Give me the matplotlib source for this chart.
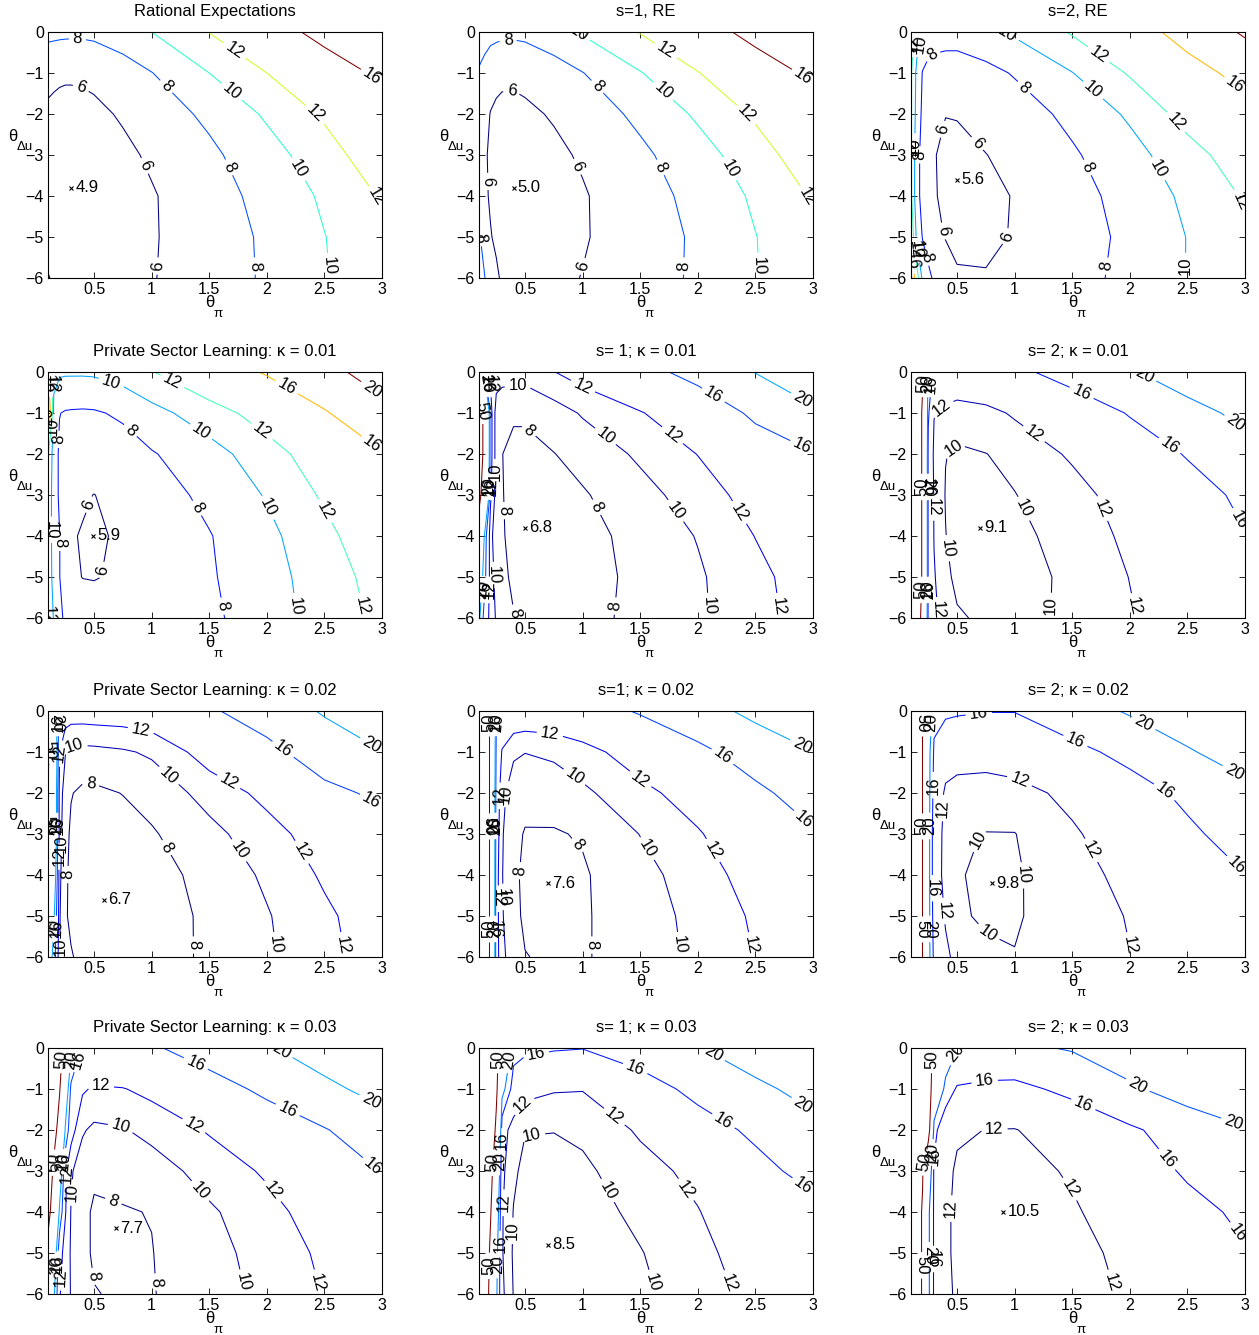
import matplotlib.pyplot as plt
import numpy as np
from matplotlib.colors import Normalize

plt.rcParams['font.family'] = ['Liberation Sans', 'DejaVu Sans']

# grid of the loss surface (theta_pi across, theta_du down)
theta_pi = [0.1, 0.15, 0.2, 0.25, 0.3, 0.4, 0.5, 0.75, 1.0, 1.5, 2.0, 2.5, 3.0]
theta_du = [0, -1, -2, -3, -4, -5, -6]

loss_re = [
    [8.5, 8.45, 8.4, 8.37, 8.35, 8.36, 8.45, 9.05, 10.0, 12.05, 14.5, 17.0, 20.0],
    [6.5, 6.4, 6.3, 6.25, 6.25, 6.3, 6.45, 7.1, 7.95, 10.0, 12.0, 14.3, 16.6],
    [5.7, 5.55, 5.45, 5.4, 5.4, 5.45, 5.6, 6.2, 6.96, 8.4, 10.27, 12.3, 14.2],
    [5.3, 5.15, 5.1, 5.05, 5.05, 5.1, 5.2, 5.6, 6.27, 7.6, 9.23, 11.1, 13.4],
    [5.0, 4.95, 4.92, 4.9, 4.9, 4.95, 5.05, 5.35, 5.85, 7.2, 8.6, 10.3, 12.2],
    [5.3, 5.2, 5.15, 5.12, 5.1, 5.15, 5.25, 5.45, 5.85, 7.0, 8.3, 9.95, 11.5],
    [6.1, 5.8, 5.6, 5.5, 5.45, 5.42, 5.45, 5.6, 5.9, 7.0, 8.25, 9.85, 11.5],
]
loss_re_s1 = [
    [10.1, 9.2, 8.7, 8.55, 8.45, 8.4, 8.5, 9.2, 10.2, 12.1, 14.5, 17.0, 20.0],
    [7.6, 7.0, 6.6, 6.4, 6.3, 6.3, 6.45, 7.1, 7.95, 9.9, 11.9, 14.3, 16.6],
    [7.0, 6.4, 5.95, 5.75, 5.65, 5.6, 5.7, 6.15, 6.9, 8.45, 10.3, 12.3, 14.2],
    [6.7, 6.15, 5.8, 5.5, 5.35, 5.25, 5.3, 5.65, 6.2, 7.6, 9.2, 11.1, 13.3],
    [7.2, 6.3, 5.8, 5.45, 5.25, 5.1, 5.1, 5.35, 5.85, 7.15, 8.6, 10.3, 12.2],
    [8.3, 7.0, 6.1, 5.7, 5.5, 5.3, 5.25, 5.45, 5.85, 7.0, 8.3, 9.95, 11.5],
    [9.0, 8.05, 7.0, 6.3, 5.75, 5.5, 5.45, 5.6, 6.05, 7.1, 8.3, 9.9, 11.5],
]
loss_re_s2 = [
    [13.0, 11.0, 9.8, 9.3, 9.0, 8.85, 8.8, 9.4, 10.3, 12.2, 14.5, 17.2, 20.5],
    [12.3, 9.5, 7.9, 7.3, 7.1, 7.0, 7.05, 7.45, 8.15, 9.95, 12.2, 14.8, 17.0],
    [12.3, 9.2, 7.6, 6.9, 6.4, 6.02, 6.05, 6.4, 7.05, 8.5, 10.3, 12.8, 14.8],
    [12.3, 8.6, 7.4, 6.6, 6.05, 5.8, 5.75, 5.98, 6.3, 7.75, 9.3, 11.2, 13.2],
    [12.4, 8.6, 7.4, 6.7, 6.1, 5.75, 5.6, 5.75, 6.05, 7.3, 8.7, 10.4, 12.2],
    [14.0, 9.5, 7.9, 7.05, 6.3, 5.95, 5.8, 5.85, 6.05, 7.2, 8.4, 10.05, 11.7],
    [21.0, 13.0, 9.6, 8.5, 7.7, 6.6, 6.1, 6.05, 6.3, 7.4, 8.45, 10.05, 11.7],
]
loss_psl_k1 = [
    [16.0, 10.6, 10.3, 10.25, 10.25, 10.25, 10.3, 10.9, 11.9, 14.1, 16.3, 18.9, 21.7],
    [21.0, 9.5, 8.05, 7.85, 7.8, 7.75, 7.8, 8.3, 9.35, 11.05, 13.0, 15.7, 18.8],
    [12.3, 9.0, 7.7, 7.3, 7.0, 6.85, 6.8, 7.15, 7.85, 9.25, 11.1, 13.3, 15.8],
    [11.5, 9.0, 7.7, 7.1, 6.6, 6.15, 5.98, 6.4, 7.05, 8.5, 10.15, 12.3, 14.6],
    [11.5, 9.0, 8.05, 7.05, 6.1, 5.92, 5.9, 6.1, 6.4, 7.9, 9.5, 11.45, 13.6],
    [11.5, 9.2, 8.05, 7.05, 6.3, 5.97, 5.95, 6.15, 6.5, 7.8, 9.2, 11.05, 12.8],
    [12.3, 9.8, 8.4, 7.7, 7.2, 6.8, 6.5, 6.55, 6.75, 7.6, 9.1, 10.8, 12.5],
]
loss_s1_k1 = [
    [30.0, 16.5, 11.5, 11.05, 10.9, 10.8, 10.8, 11.95, 13.0, 14.9, 17.1, 20.1, 23.0],
    [60.0, 45.0, 13.0, 9.05, 8.5, 8.35, 8.35, 9.1, 10.2, 11.85, 13.8, 16.6, 19.3],
    [60.0, 45.0, 13.0, 9.05, 8.05, 7.3, 7.3, 7.95, 8.7, 10.35, 12.05, 14.3, 15.8],
    [55.0, 40.0, 12.5, 9.05, 8.1, 7.4, 7.1, 7.35, 7.8, 9.3, 10.95, 12.9, 15.05],
    [40.0, 18.0, 10.5, 9.05, 8.2, 7.4, 6.9, 7.0, 7.3, 8.7, 10.1, 12.05, 13.9],
    [25.0, 17.0, 10.8, 9.4, 8.5, 7.6, 7.1, 7.1, 7.3, 8.45, 9.75, 11.4, 13.2],
    [21.0, 14.0, 11.05, 9.8, 8.9, 8.1, 7.6, 7.4, 7.4, 8.5, 9.7, 11.2, 13.05],
]
loss_s2_k1 = [
    [100, 80, 55, 17, 15.5, 15.05, 14.6, 14.8, 15.3, 17.3, 19.6, 22.2, 25.0],
    [100, 80, 45, 16.5, 12.1, 11.2, 10.8, 11.3, 12.3, 14.05, 16.2, 18.6, 21.0],
    [100, 80, 45, 15, 11.5, 10.05, 9.75, 9.97, 10.45, 12.35, 14.3, 16.2, 18.6],
    [100, 80, 45, 15, 11.8, 9.9, 9.3, 9.5, 9.95, 11.1, 13.2, 14.8, 16.6],
    [100, 80, 45, 15, 11.9, 10.05, 9.2, 9.25, 9.55, 10.7, 12.5, 14.3, 15.9],
    [100, 80, 45, 15, 12.2, 10.4, 9.6, 9.4, 9.45, 10.3, 12.05, 13.8, 15.6],
    [100, 70, 40, 15, 12.5, 11.05, 10.2, 9.7, 9.5, 10.3, 11.8, 13.5, 15.3],
]
loss_psl_k2 = [
    [40, 25, 14, 13.4, 13.2, 13.2, 13.3, 13.4, 13.8, 15.6, 17.6, 20.4, 23.0],
    [55, 30, 12.1, 10.1, 9.5, 9.4, 9.45, 9.75, 10.3, 13.05, 15.1, 17.7, 19.9],
    [48, 28, 11, 9.05, 8.1, 7.6, 7.6, 8.05, 8.7, 10.75, 12.6, 15.2, 16.6],
    [52, 28, 10.8, 8.6, 7.7, 7.1, 6.95, 7.25, 7.8, 9.4, 11.2, 13.1, 14.8],
    [40, 25, 10.5, 8.4, 7.5, 6.9, 6.75, 6.9, 7.3, 8.6, 10.35, 12.3, 14.05],
    [30, 21, 10.2, 8.3, 7.5, 6.8, 6.7, 6.8, 7.1, 8.35, 9.85, 11.6, 13.3],
    [25, 18, 10.1, 8.8, 8.2, 7.3, 7.05, 7.0, 7.2, 8.3, 9.7, 11.4, 13.05],
]
loss_s1_k2 = [
    [100, 70, 40, 16.5, 14.5, 14.05, 13.9, 14.0, 14.5, 16.3, 18.4, 21.0, 23.5],
    [100, 70, 40, 15.05, 11.8, 10.3, 10.05, 10.4, 11.2, 13.2, 15.2, 17.6, 19.9],
    [100, 70, 40, 14.05, 10.5, 9.0, 8.5, 8.8, 9.6, 11.4, 13.05, 15.3, 17.5],
    [100, 70, 40, 13.5, 10.2, 8.4, 7.9, 7.85, 8.15, 10.05, 11.8, 13.8, 15.7],
    [100, 70, 40, 13.05, 10.1, 8.3, 7.7, 7.6, 7.8, 9.3, 11.05, 12.9, 14.8],
    [100, 70, 40, 13.05, 10.2, 8.4, 7.75, 7.65, 7.8, 9.05, 10.6, 12.3, 14.2],
    [100, 70, 40, 13.05, 10.5, 8.9, 8.05, 7.75, 7.8, 9.05, 10.4, 12.05, 13.8],
]
loss_s2_k2 = [
    [100, 80, 45, 25, 17.0, 16.6, 16.4, 16.1, 16.1, 18.2, 20.4, 22.6, 25.0],
    [100, 80, 45, 22, 15.5, 13.6, 13.2, 13.1, 13.4, 15.05, 17.0, 19.6, 22.0],
    [100, 80, 45, 22, 14.5, 11.5, 11.05, 10.9, 11.2, 12.6, 14.6, 16.7, 18.8],
    [100, 80, 45, 22, 13.5, 11.3, 10.2, 9.95, 9.95, 11.7, 13.4, 15.4, 17.4],
    [100, 80, 45, 22, 13.5, 11.2, 10.1, 9.75, 9.8, 11.1, 12.7, 14.6, 15.95],
    [100, 80, 45, 22, 14.05, 11.7, 10.2, 9.8, 9.85, 10.8, 12.15, 13.9, 15.6],
    [100, 80, 45, 22, 15.05, 12.6, 11.2, 10.3, 10.05, 10.7, 11.95, 13.7, 15.5],
]
loss_psl_k3 = [
    [100, 80, 60, 40, 21, 15.5, 15.05, 15.2, 15.6, 17.6, 19.6, 22.05, 24.5],
    [100, 70, 52, 25, 15.05, 12.3, 11.7, 11.9, 12.6, 14.6, 16.7, 19.05, 21.4],
    [100, 60, 40, 19.5, 13, 10.2, 9.6, 9.85, 10.6, 12.2, 14.05, 15.8, 18.05],
    [70, 45, 25, 12.5, 10.2, 9.05, 8.2, 8.45, 9.05, 10.8, 12.3, 14.2, 16.1],
    [60, 35, 19, 12.2, 9.9, 8.3, 7.85, 7.9, 8.05, 9.7, 11.3, 13.1, 14.8],
    [40, 25, 13, 11.05, 9.8, 8.3, 7.85, 7.8, 7.95, 9.3, 10.8, 12.4, 14.05],
    [30, 21, 12.2, 10.8, 9.9, 8.6, 8.05, 7.85, 7.9, 9.15, 10.5, 12.1, 13.8],
]
loss_s1_k3 = [
    [100, 90, 80, 60, 30, 17.5, 16.8, 16.3, 16.1, 17.7, 19.8, 22.3, 24.8],
    [100, 90, 80, 55, 22, 14.05, 12.8, 12.2, 12.1, 14.5, 16.9, 19.1, 21.4],
    [100, 90, 70, 45, 13, 11.05, 10.1, 10.05, 10.4, 12.3, 14.6, 16.6, 18.8],
    [100, 80, 60, 30, 12.5, 10.4, 9.4, 9.35, 9.6, 11.2, 12.6, 15.05, 17.05],
    [100, 70, 52, 25, 12.2, 9.9, 8.9, 8.85, 9.1, 10.5, 11.9, 13.8, 15.05],
    [100, 70, 45, 22, 12.2, 9.7, 8.6, 8.55, 8.75, 9.9, 11.4, 13.1, 14.8],
    [100, 70, 40, 21, 12.5, 9.9, 8.8, 8.65, 8.7, 9.6, 11.05, 12.6, 14.2],
]
loss_s2_k3 = [
    [200, 150, 100, 70, 40, 25, 20.2, 19.5, 19.3, 20.3, 22.4, 24.8, 27.3],
    [200, 150, 100, 70, 30, 18.05, 15.6, 15.1, 15.05, 16.9, 19.4, 21.8, 24.05],
    [200, 150, 100, 60, 17, 13.5, 12.4, 11.95, 11.9, 13.4, 15.5, 17.6, 19.6],
    [120, 80, 52, 25, 15.5, 12.8, 11.6, 11.2, 11.05, 12.3, 14.3, 16.4, 18.5],
    [70, 60, 48, 21, 15.5, 12.6, 11.3, 10.8, 10.6, 11.7, 13.4, 15.05, 16.6],
    [70, 60, 48, 21, 15.5, 12.6, 11.3, 10.85, 10.7, 11.3, 12.6, 14.4, 15.8],
    [70, 60, 48, 21, 15.5, 12.8, 11.5, 11.0, 10.8, 11.1, 12.3, 14.05, 15.5],
]

panels = [loss_re, loss_re_s1, loss_re_s2,
          loss_psl_k1, loss_s1_k1, loss_s2_k1,
          loss_psl_k2, loss_s1_k2, loss_s2_k2,
          loss_psl_k3, loss_s1_k3, loss_s2_k3]

titles = ['Rational Expectations', 's=1, RE', 's=2, RE',
          'Private Sector Learning: \u03ba = 0.01', 's= 1; \u03ba = 0.01', 's= 2; \u03ba = 0.01',
          'Private Sector Learning: \u03ba = 0.02', 's=1; \u03ba = 0.02', 's= 2; \u03ba = 0.02',
          'Private Sector Learning: \u03ba = 0.03', 's= 1; \u03ba = 0.03', 's= 2; \u03ba = 0.03']

levels = [[6, 8, 10, 12, 16], [6, 8, 10, 12, 16], [6, 8, 10, 12, 16, 20],
          [6, 8, 10, 12, 16, 20], [8, 10, 12, 16, 20, 50], [10, 12, 16, 20, 50],
          [8, 10, 12, 16, 20, 50], [8, 10, 12, 16, 20, 50], [10, 12, 16, 20, 50],
          [8, 10, 12, 16, 20, 50], [10, 12, 16, 20, 50], [12, 16, 20, 50]]

# location and value of the minimum loss
min_x = [0.3, 0.4, 0.5, 0.49, 0.5, 0.7, 0.59, 0.7, 0.8, 0.69, 0.7, 0.9]
min_y = [-3.8, -3.8, -3.6, -4.0, -3.8, -3.8, -4.6, -4.2, -4.2, -4.4, -4.8, -4.0]
min_val = ['4.9', '5.0', '5.6', '5.9', '6.8', '9.1', '6.7', '7.6', '9.8', '7.7', '8.5', '10.5']

W, H = 1259, 1335
lefts = [48, 479, 911]
tops = [32, 372, 711, 1048]
aw, ah = 334, 246


def label_spots(ax, cs, spacing=103, start=12):
    # matlab style: a label every `spacing` pixels along each contour line
    spots = []
    for path in cs.get_paths():
        for seg in path.to_polygons(closed_only=False):
            if len(seg) < 2:
                continue
            d = ax.transData.transform(seg)
            cum = np.concatenate([[0], np.cumsum(np.hypot(*np.diff(d, axis=0).T))])
            s = start
            while s <= cum[-1]:
                spots.append((np.interp(s, cum, seg[:, 0]), np.interp(s, cum, seg[:, 1])))
                s += spacing
    return spots


fig = plt.figure(figsize=(W / 100, H / 100), dpi=100)

for i in range(12):
    r, c = divmod(i, 3)
    ax = fig.add_axes([lefts[c] / W, 1 - (tops[r] + ah) / H, aw / W, ah / H])
    lv = levels[i]
    cs = ax.contour(theta_pi, theta_du, np.array(panels[i], dtype=float), levels=lv,
                    cmap='jet', norm=Normalize(lv[0], lv[-1]), linewidths=0.75)
    ax.set_xlim(0.1, 3)
    ax.set_ylim(-6, 0)
    ax.clabel(cs, manual=label_spots(ax, cs), fmt='%d', fontsize=12, colors='k',
              inline=True, inline_spacing=4)

    ax.plot(min_x[i], min_y[i], 'kx', ms=3, mew=0.8)
    ax.annotate(min_val[i], (min_x[i], min_y[i]), xytext=(3, 0),
                textcoords='offset points', va='center', fontsize=12)

    ax.set_xticks([0.5, 1, 1.5, 2, 2.5, 3])
    ax.set_xticklabels(['0.5', '1', '1.5', '2', '2.5', '3'])
    ax.set_yticks([0, -1, -2, -3, -4, -5, -6])
    ax.tick_params(direction='in', top=True, right=True, length=4, width=0.6,
                   labelsize=11.5, pad=3)
    for s in ax.spines.values():
        s.set_linewidth(0.8)

    ax.text(0.5, 1.085, titles[i], transform=ax.transAxes, ha='center', va='center', fontsize=12)
    ax.text(0.485, -0.098, '\u03b8', transform=ax.transAxes, ha='center', va='center', fontsize=12)
    ax.text(0.509, -0.145, '\u03c0', transform=ax.transAxes, ha='center', va='center', fontsize=9.5)
    ax.text(-0.107, 0.576, '\u03b8', transform=ax.transAxes, ha='center', va='center', fontsize=12)
    ax.text(-0.069, 0.532, '\u0394u', transform=ax.transAxes, ha='center', va='center', fontsize=9.5)

fig.savefig('out.png', dpi=100)
